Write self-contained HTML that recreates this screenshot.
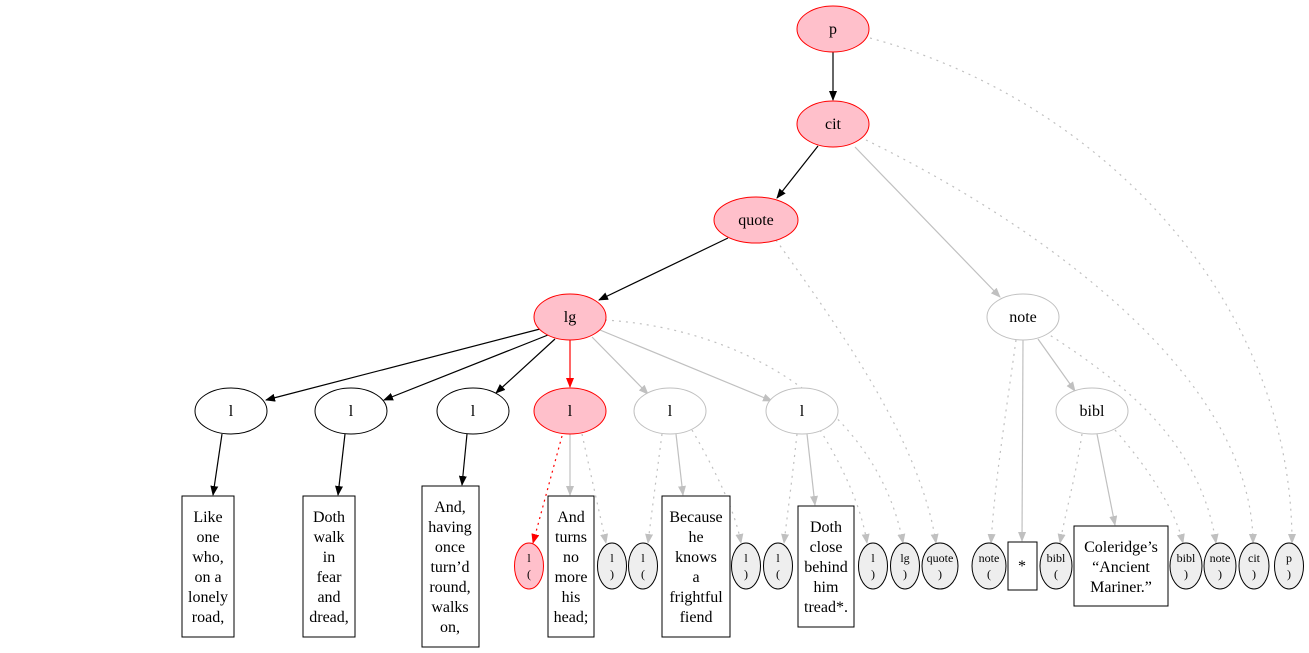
<!DOCTYPE html>
<html><head><meta charset="utf-8"><style>
html,body{margin:0;padding:0;background:#fff}
svg{display:block}
text{font-family:"Liberation Serif",serif;text-anchor:middle}
.t{font-size:16px}
.s{font-size:12px}
</style></head><body>
<svg width="1309" height="653" viewBox="0 0 1309 653" xmlns="http://www.w3.org/2000/svg">
<defs>
<marker id="ab" markerWidth="10" markerHeight="8" refX="9" refY="4" orient="auto" markerUnits="userSpaceOnUse"><path d="M0,0L10,4L0,8z" fill="#000"/></marker>
<marker id="ar" markerWidth="10" markerHeight="8" refX="9" refY="4" orient="auto" markerUnits="userSpaceOnUse"><path d="M0,0L10,4L0,8z" fill="red"/></marker>
<marker id="ag" markerWidth="10" markerHeight="8" refX="9" refY="4" orient="auto" markerUnits="userSpaceOnUse"><path d="M0,0L10,4L0,8z" fill="#c0c0c0"/></marker>
</defs>
<g fill="none" stroke-width="1.2">
<!-- black -->
<g stroke="#000" marker-end="url(#ab)">
<line x1="833" y1="52" x2="833" y2="100"/>
<line x1="818" y1="146" x2="777" y2="198"/>
<line x1="728" y1="238" x2="599" y2="300"/>
<line x1="540" y1="329" x2="266" y2="400"/>
<line x1="548" y1="335" x2="384" y2="400"/>
<line x1="555" y1="339" x2="496" y2="393"/>
<line x1="222" y1="434" x2="213" y2="495"/>
<line x1="345" y1="434" x2="338" y2="495"/>
<line x1="467" y1="434" x2="462" y2="485"/>
</g>
<line x1="570" y1="340" x2="570" y2="387" stroke="red" marker-end="url(#ar)"/>
<line x1="562" y1="436" x2="533" y2="543" stroke="red" stroke-dasharray="2,4" marker-end="url(#ar)"/>
<!-- gray solid -->
<g stroke="#c0c0c0" marker-end="url(#ag)">
<line x1="592" y1="337" x2="648" y2="394"/>
<line x1="600" y1="330" x2="772" y2="401"/>
<line x1="855" y1="147" x2="1000" y2="297"/>
<line x1="1038" y1="339" x2="1075" y2="391"/>
<line x1="1023" y1="340" x2="1022" y2="541"/>
<line x1="1097" y1="434" x2="1115" y2="525"/>
<line x1="570" y1="434" x2="570" y2="495"/>
<line x1="676" y1="434" x2="683" y2="495"/>
<line x1="807" y1="434" x2="815" y2="505"/>
</g>
<!-- gray dotted -->
<g stroke="#c0c0c0" stroke-dasharray="2,5" marker-end="url(#ag)">
<path d="M870,38 C1100,100 1292,300 1292,543"/>
<path d="M866,140 C1050,230 1252,380 1253,543"/>
<path d="M1016,340 C1005,420 995,480 991,543"/>
<path d="M1045,332 C1120,380 1200,440 1216,543"/>
<path d="M1082,434 C1075,480 1066,510 1060,543"/>
<path d="M1115,430 C1150,470 1175,510 1183,543"/>
<path d="M776,240 C840,330 920,440 936,543"/>
<path d="M605,320 C760,330 880,420 903,543"/>
<path d="M582,434 C592,480 600,515 606,543"/>
<path d="M662,434 C656,480 652,510 648,543"/>
<path d="M692,430 C715,470 735,510 741,543"/>
<path d="M797,434 C792,480 788,510 784,543"/>
<path d="M820,430 C845,470 862,510 867,543"/>
</g>
</g>
<!-- top nodes -->
<g stroke-width="1">
<ellipse cx="833" cy="29" rx="36" ry="23" fill="pink" stroke="red"/>
<ellipse cx="833" cy="124" rx="36" ry="23" fill="pink" stroke="red"/>
<ellipse cx="756" cy="220" rx="42" ry="23" fill="pink" stroke="red"/>
<ellipse cx="570" cy="317" rx="36" ry="23" fill="pink" stroke="red"/>
<ellipse cx="1023" cy="317" rx="36" ry="23" fill="#fff" stroke="#c0c0c0"/>
<ellipse cx="1092" cy="411" rx="36" ry="23" fill="#fff" stroke="#c0c0c0"/>
<ellipse cx="231" cy="411" rx="36" ry="23" fill="#fff" stroke="#000"/>
<ellipse cx="351" cy="411" rx="36" ry="23" fill="#fff" stroke="#000"/>
<ellipse cx="473" cy="411" rx="36" ry="23" fill="#fff" stroke="#000"/>
<ellipse cx="570" cy="411" rx="36" ry="23" fill="pink" stroke="red"/>
<ellipse cx="670" cy="411" rx="36" ry="23" fill="#fff" stroke="#c0c0c0"/>
<ellipse cx="802" cy="411" rx="36" ry="23" fill="#fff" stroke="#c0c0c0"/>
</g>
<g class="t">
<text x="833" y="34">p</text>
<text x="833" y="129">cit</text>
<text x="756" y="225">quote</text>
<text x="570" y="322">lg</text>
<text x="1023" y="322">note</text>
<text x="1092" y="416">bibl</text>
<text x="231" y="416">l</text>
<text x="351" y="416">l</text>
<text x="473" y="416">l</text>
<text x="570" y="416">l</text>
<text x="670" y="416">l</text>
<text x="802" y="416">l</text>
</g>
<!-- bottom small ellipses -->
<g stroke="#000" fill="#eee">
<ellipse cx="529" cy="566" rx="14.5" ry="23" fill="pink" stroke="red"/>
<ellipse cx="612" cy="566" rx="14.5" ry="23"/>
<ellipse cx="643" cy="566" rx="14.5" ry="23"/>
<ellipse cx="746" cy="566" rx="14.5" ry="23"/>
<ellipse cx="778" cy="566" rx="14.5" ry="23"/>
<ellipse cx="873" cy="566" rx="14.5" ry="23"/>
<ellipse cx="905" cy="566" rx="14.5" ry="23"/>
<ellipse cx="940" cy="566" rx="18" ry="23"/>
<ellipse cx="989" cy="566" rx="17" ry="23"/>
<ellipse cx="1056" cy="566" rx="16" ry="23"/>
<ellipse cx="1186" cy="566" rx="16" ry="23"/>
<ellipse cx="1220" cy="566" rx="16" ry="23"/>
<ellipse cx="1254" cy="566" rx="15" ry="23"/>
<ellipse cx="1289" cy="566" rx="14.5" ry="23"/>
</g>
<g class="s">
<text x="529" y="562">l</text><text x="529" y="578">(</text>
<text x="612" y="562">l</text><text x="612" y="578">)</text>
<text x="643" y="562">l</text><text x="643" y="578">(</text>
<text x="746" y="562">l</text><text x="746" y="578">)</text>
<text x="778" y="562">l</text><text x="778" y="578">(</text>
<text x="873" y="562">l</text><text x="873" y="578">)</text>
<text x="905" y="562">lg</text><text x="905" y="578">)</text>
<text x="940" y="562">quote</text><text x="940" y="578">)</text>
<text x="989" y="562">note</text><text x="989" y="578">(</text>
<text x="1056" y="562">bibl</text><text x="1056" y="578">(</text>
<text x="1186" y="562">bibl</text><text x="1186" y="578">)</text>
<text x="1220" y="562">note</text><text x="1220" y="578">)</text>
<text x="1254" y="562">cit</text><text x="1254" y="578">)</text>
<text x="1289" y="562">p</text><text x="1289" y="578">)</text>
</g>
<!-- text boxes -->
<g fill="#fff" stroke="#000">
<rect x="182" y="496" width="52" height="141"/>
<rect x="303" y="496" width="52" height="141"/>
<rect x="422" y="486" width="57" height="161"/>
<rect x="548" y="496" width="46" height="141"/>
<rect x="662" y="496" width="68" height="141"/>
<rect x="798" y="506" width="56" height="121"/>
<rect x="1008" y="542" width="29" height="48"/>
<rect x="1074" y="526" width="94" height="80"/>
</g>
<g class="t">
<text x="208" y="522">Like</text><text x="208" y="542">one</text><text x="208" y="562">who,</text><text x="208" y="582">on a</text><text x="208" y="602">lonely</text><text x="208" y="622">road,</text>
<text x="329" y="522">Doth</text><text x="329" y="542">walk</text><text x="329" y="562">in</text><text x="329" y="582">fear</text><text x="329" y="602">and</text><text x="329" y="622">dread,</text>
<text x="450" y="512">And,</text><text x="450" y="532">having</text><text x="450" y="552">once</text><text x="450" y="572">turn’d</text><text x="450" y="592">round,</text><text x="450" y="612">walks</text><text x="450" y="632">on,</text>
<text x="571" y="522">And</text><text x="571" y="542">turns</text><text x="571" y="562">no</text><text x="571" y="582">more</text><text x="571" y="602">his</text><text x="571" y="622">head;</text>
<text x="696" y="522">Because</text><text x="696" y="542">he</text><text x="696" y="562">knows</text><text x="696" y="582">a</text><text x="696" y="602">frightful</text><text x="696" y="622">fiend</text>
<text x="826" y="532">Doth</text><text x="826" y="552">close</text><text x="826" y="572">behind</text><text x="826" y="592">him</text><text x="826" y="612">tread*.</text>
<text x="1022" y="571">*</text>
<text x="1121" y="552">Coleridge’s</text><text x="1121" y="572">“Ancient</text><text x="1121" y="592">Mariner.”</text>
</g>
</svg>
</body></html>
